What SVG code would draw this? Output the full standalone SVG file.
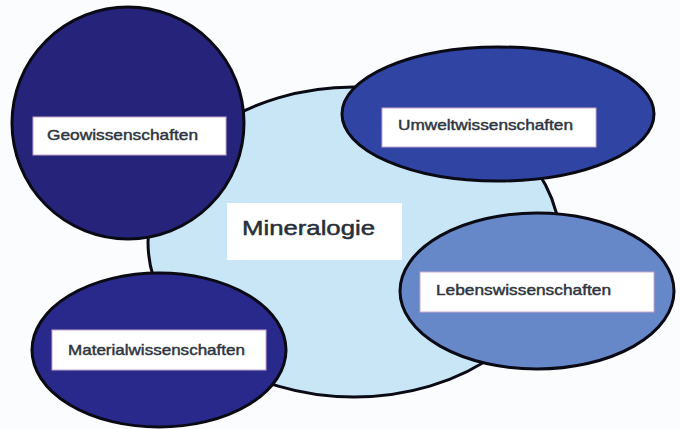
<svg xmlns="http://www.w3.org/2000/svg" width="680" height="429" viewBox="0 0 680 429">
<style>
.shape{stroke:#0a0a14;stroke-width:3}
.box{fill:#ffffff;stroke:#c9a6cc;stroke-width:1}
.lbl{font-family:"Liberation Sans",Arial,sans-serif;font-size:15px;fill:#2e3540;stroke:#2e3540;stroke-width:0.45}
.main{font-family:"Liberation Sans",Arial,sans-serif;font-size:21px;fill:#27303a;stroke:#27303a;stroke-width:0.5}
</style>
<rect x="0" y="0" width="680" height="429" fill="#fbfcfe"/>
<g id="mineralogie">
<ellipse class="shape" cx="354" cy="242" rx="206" ry="155" fill="#c8e6f5"/>
<rect x="227" y="203" width="175" height="57" fill="#ffffff"/>
<text class="main" x="242" y="235" textLength="133" lengthAdjust="spacingAndGlyphs">Mineralogie</text>
</g>
<g id="geowissenschaften">
<circle class="shape" cx="128" cy="123" r="116" fill="#25237a"/>
<rect class="box" x="33" y="117" width="193" height="38"/>
<text class="lbl" x="47" y="140" textLength="151" lengthAdjust="spacingAndGlyphs">Geowissenschaften</text>
</g>
<g id="umweltwissenschaften">
<ellipse class="shape" cx="498" cy="114" rx="156" ry="67" fill="#2f44a3"/>
<rect class="box" x="382" y="108" width="214" height="39"/>
<text class="lbl" x="398" y="130" textLength="175" lengthAdjust="spacingAndGlyphs">Umweltwissenschaften</text>
</g>
<g id="materialwissenschaften">
<ellipse class="shape" cx="159" cy="350" rx="127" ry="77" fill="#28298b"/>
<rect class="box" x="52" y="330" width="214" height="40"/>
<text class="lbl" x="68" y="355" textLength="177" lengthAdjust="spacingAndGlyphs">Materialwissenschaften</text>
</g>
<g id="lebenswissenschaften">
<ellipse class="shape" cx="537" cy="291" rx="137" ry="78" fill="#6687c8"/>
<rect class="box" x="420" y="272" width="234" height="40"/>
<text class="lbl" x="436" y="295" textLength="175" lengthAdjust="spacingAndGlyphs">Lebenswissenschaften</text>
</g>
<g id="connectors"></g>
</svg>
